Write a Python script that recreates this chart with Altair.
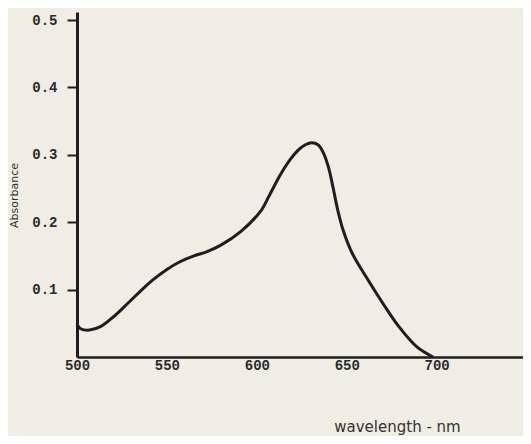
import altair as alt
import pandas as pd

wavelength = [500, 502, 507, 513, 520, 528, 535, 542, 550, 557, 565, 572, 580, 591, 602, 607, 613, 618, 623, 627, 630.5, 634, 637, 640, 642.5, 645, 648, 653, 661, 670, 679, 689, 698]
absorbance = [0.048, 0.042, 0.040, 0.045, 0.059, 0.079, 0.097, 0.114, 0.130, 0.141, 0.150, 0.156, 0.166, 0.186, 0.216, 0.240, 0.270, 0.291, 0.307, 0.315, 0.318, 0.315, 0.303, 0.280, 0.250, 0.218, 0.188, 0.154, 0.118, 0.080, 0.045, 0.015, 0.0]
x_ticks = [500, 550, 600, 650, 700]
y_ticks = [0.1, 0.2, 0.3, 0.4, 0.5]

df = pd.DataFrame({"wavelength": wavelength, "absorbance": absorbance})

chart = alt.Chart(df).mark_line(
    color="#1e1e1e", strokeWidth=3, interpolate="catmull-rom"
).encode(
    x=alt.X("wavelength:Q",
            scale=alt.Scale(domain=[500, 748], nice=False, zero=False),
            axis=alt.Axis(values=x_ticks, title="wavelength - nm", grid=False,
                          ticks=False, domainColor="#1e1e1e", domainWidth=2.5,
                          labelFlush=False, labelBound=False,
                          labelFont="Liberation Mono", labelFontWeight="bold",
                          labelFontSize=14, labelColor="#2a2a2a", labelPadding=1,
                          titleFont="DejaVu Sans", titleFontWeight="normal",
                          titleFontSize=15, titleColor="#333333",
                          titleX=320, titleY=62, titleAlign="center")),
    y=alt.Y("absorbance:Q",
            scale=alt.Scale(domain=[0, 0.512], nice=False),
            axis=alt.Axis(values=y_ticks, format=".1f", title="Absorbance",
                          grid=False, tickSize=10, tickWidth=2, tickColor="#1e1e1e",
                          domainColor="#1e1e1e", domainWidth=3,
                          labelFont="Liberation Mono", labelFontWeight="bold",
                          labelFontSize=14, labelColor="#2a2a2a", labelPadding=10,
                          titleFont="DejaVu Sans", titleFontWeight="normal",
                          titleFontSize=11, titleColor="#333333",
                          titleX=-58, titleY=183, titleAlign="center")),
).properties(
    width=446, height=345,
    autosize=alt.AutoSizeParams(type="none"),
    padding={"left": 69, "top": 4, "right": 0, "bottom": 79},
    background="#efede4",
).configure_view(stroke=None)

chart.save("out.html", embed_options={"renderer": "svg", "actions": False})
